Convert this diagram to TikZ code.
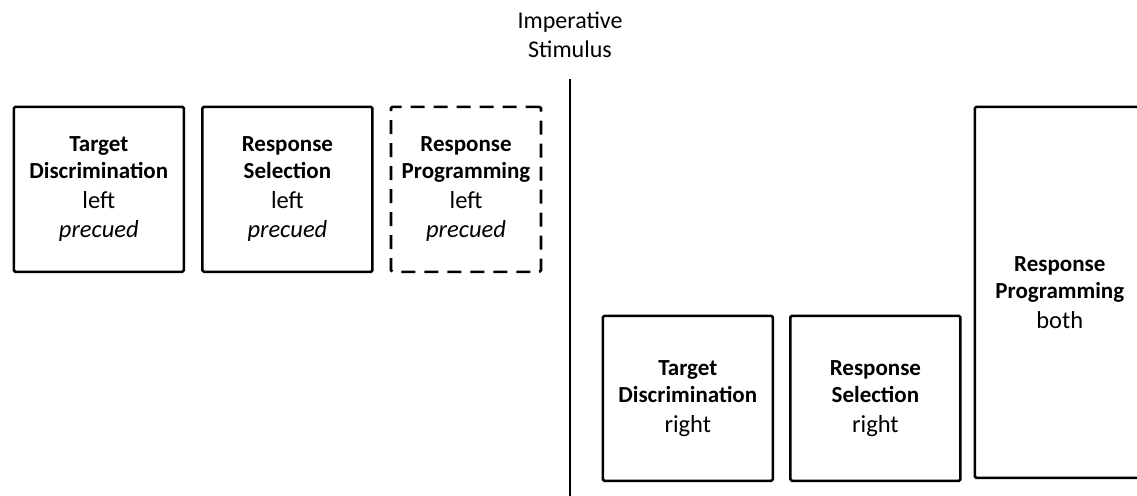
\documentclass[tikz,border=0pt]{standalone}
\usepackage{fontspec}
\setmainfont{Carlito}
\usetikzlibrary{positioning}
\tikzset{
    stage/.style={rectangle, draw=black, line width=2.6pt, rounded corners=1.5pt, minimum width=170pt, minimum height=165pt, inner sep=0pt, align=center, font=\fontsize{24.5}{30}\selectfont},
    precued/.style={stage, dash pattern=on 14pt off 9pt},
    stimtext/.style={align=center, inner sep=0pt, font=\fontsize{24}{29}\selectfont},
    splitline/.style={line width=2.6pt, black}
}
\newcommand{\stagename}[2]{{\fontsize{23}{27}\selectfont\bfseries #1}\\[-3pt]{\fontsize{23}{27}\selectfont\bfseries #2}}

\begin{document}
\begin{tikzpicture}[x=1pt, y=-1pt]
    \useasboundingbox (0,0) rectangle (1137,495);
    % stimulus and the line splitting the two periods
    \node[stimtext] (stim) at (570,35) {Imperative\\Stimulus};
    \coordinate (stimEnd) at (570,497);
    \draw[splitline, shorten <=21pt] (stim) -- (stimEnd);

    % before the stimulus: left hand, precued
    \node[stage, anchor=north west] (tdLeft) at (12.5,105.5) {\stagename{Target}{Discrimination}\\ left\\[-1pt] \textit{precued}};
    \node[stage, right=16pt of tdLeft] (rsLeft) {\stagename{Response}{Selection}\\ left\\[-1pt] \textit{precued}};
    \node[precued, minimum width=150pt, right=16pt of rsLeft] (rpLeft) {\stagename{Response}{Programming}\\ left\\[-1pt] \textit{precued}};

    % after the stimulus
    \node[stage, anchor=north west] (tdRight) at (601.5,314.5) {\stagename{Target}{Discrimination}\\ right};
    \node[stage, right=15pt of tdRight] (rsRight) {\stagename{Response}{Selection}\\ right};
    \node[stage, anchor=north west, minimum height=371pt] (rpBoth) at (973.5,105.5) {\stagename{Response}{Programming}\\ both};
\end{tikzpicture}
\end{document}
